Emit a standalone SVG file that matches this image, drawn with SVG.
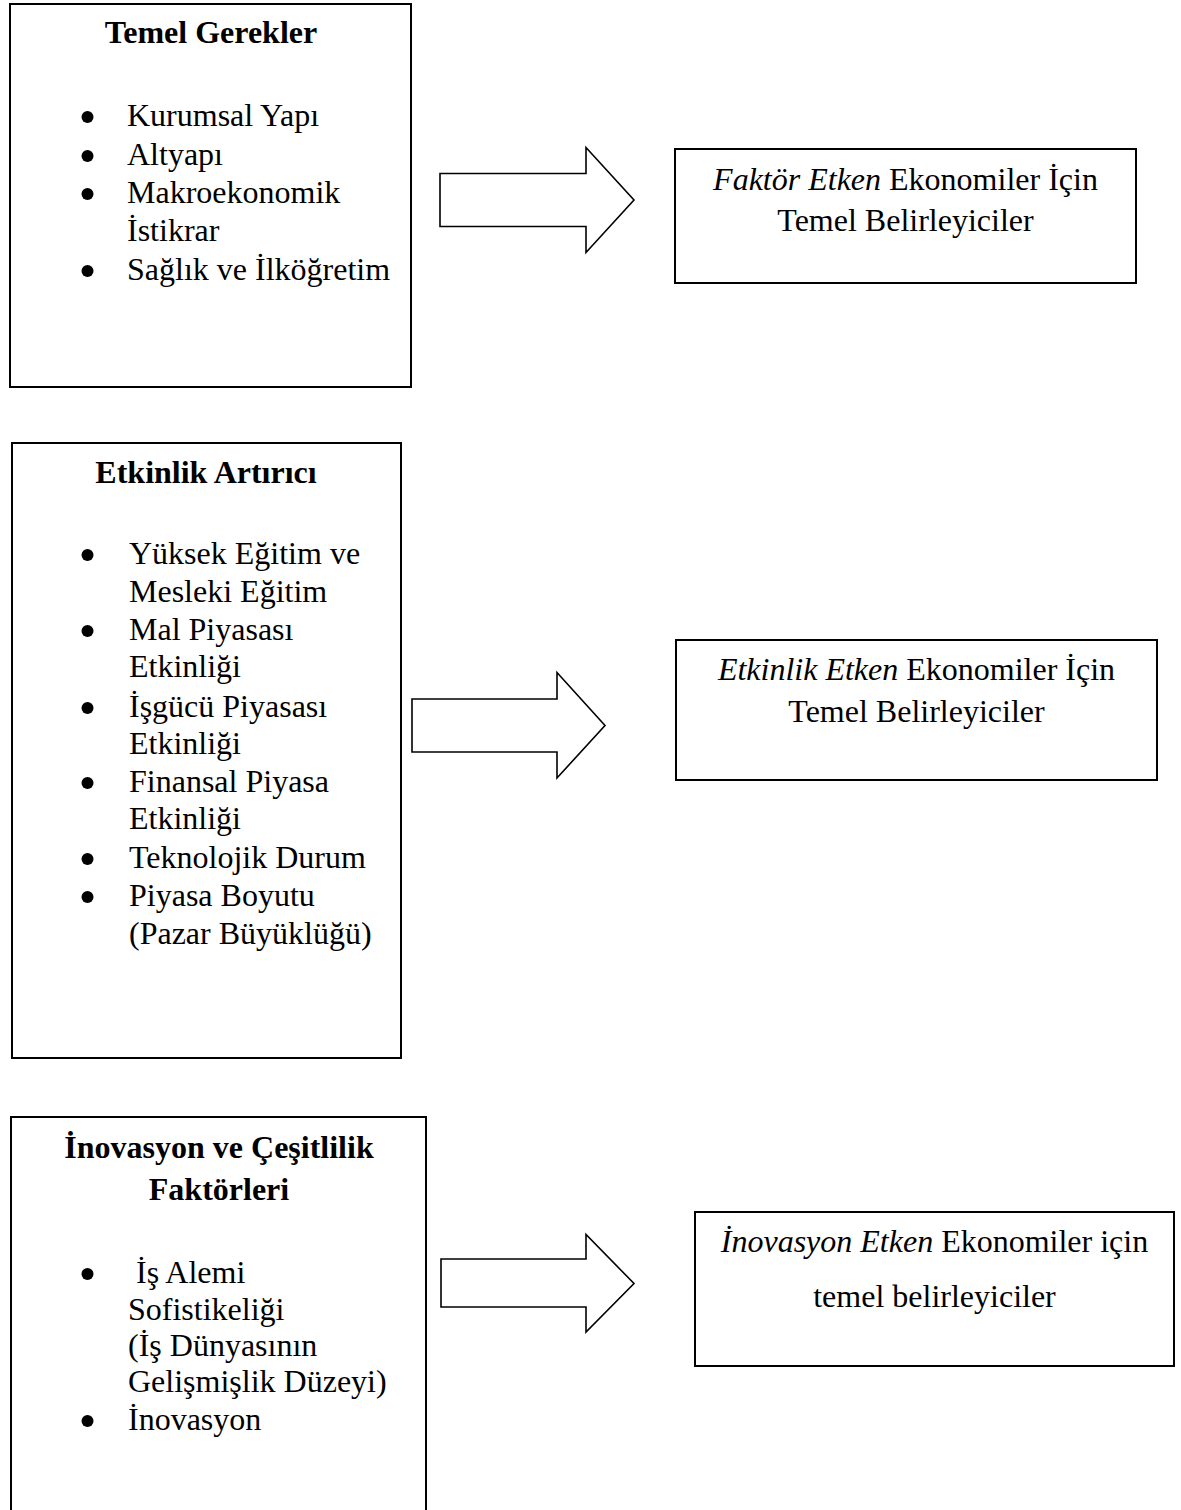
<svg xmlns="http://www.w3.org/2000/svg" width="1181" height="1510" viewBox="0 0 1181 1510">
  <style>
    .box { fill: #fff; stroke: #000; stroke-width: 2; }
    .arrow { fill: #fff; stroke: #000; stroke-width: 1.6; stroke-linejoin: miter; }
    text { font-family: "Liberation Serif", "Times New Roman", serif; font-size: 32px; fill: #000; }
    .title { font-weight: bold; text-anchor: middle; }
    .center { text-anchor: middle; }
    .it { font-style: italic; }
    .dot { fill: #000; }
  </style>
  <rect width="1181" height="1510" fill="#fff"/>

  <!-- Basic requirements -->
  <g id="temel-gerekler">
    <rect class="box" x="10" y="4" width="401" height="383"/>
    <text class="title" x="211" y="43">Temel Gerekler</text>
    <circle class="dot" cx="87.5" cy="117" r="6"/>
    <text x="127" y="126">Kurumsal Yapı</text>
    <circle class="dot" cx="87.5" cy="156" r="6"/>
    <text x="127" y="165">Altyapı</text>
    <circle class="dot" cx="87.5" cy="194" r="6"/>
    <text x="127" y="203">Makroekonomik</text>
    <text x="127" y="241">İstikrar</text>
    <circle class="dot" cx="87.5" cy="271" r="6"/>
    <text x="127" y="280">Sağlık ve İlköğretim</text>
  </g>

  <g id="faktor-etken">
    <rect class="box" x="675" y="149" width="461" height="134"/>
    <text class="center" x="905.5" y="190"><tspan class="it">Faktör Etken</tspan> Ekonomiler İçin</text>
    <text class="center" x="905.5" y="231">Temel Belirleyiciler</text>
  </g>

  <!-- Efficiency enhancers -->
  <g id="etkinlik-artirici">
    <rect class="box" x="12" y="443" width="389" height="615"/>
    <text class="title" x="206" y="483">Etkinlik Artırıcı</text>
    <circle class="dot" cx="87.5" cy="555" r="6"/>
    <text x="129" y="564">Yüksek Eğitim ve</text>
    <text x="129" y="602">Mesleki Eğitim</text>
    <circle class="dot" cx="87.5" cy="631" r="6"/>
    <text x="129" y="640">Mal Piyasası</text>
    <text x="129" y="677">Etkinliği</text>
    <circle class="dot" cx="87.5" cy="708" r="6"/>
    <text x="129" y="717">İşgücü Piyasası</text>
    <text x="129" y="754">Etkinliği</text>
    <circle class="dot" cx="87.5" cy="783" r="6"/>
    <text x="129" y="792">Finansal Piyasa</text>
    <text x="129" y="829">Etkinliği</text>
    <circle class="dot" cx="87.5" cy="859" r="6"/>
    <text x="129" y="868">Teknolojik Durum</text>
    <circle class="dot" cx="87.5" cy="897" r="6"/>
    <text x="129" y="906">Piyasa Boyutu</text>
    <text x="129" y="944">(Pazar Büyüklüğü)</text>
  </g>

  <g id="etkinlik-etken">
    <rect class="box" x="676" y="640" width="481" height="140"/>
    <text class="center" x="916.5" y="680"><tspan class="it">Etkinlik Etken</tspan> Ekonomiler İçin</text>
    <text class="center" x="916.5" y="722">Temel Belirleyiciler</text>
  </g>

  <!-- Innovation and sophistication factors -->
  <g id="inovasyon-faktorleri">
    <rect class="box" x="11" y="1117" width="415" height="410"/>
    <text class="title" x="219" y="1158">İnovasyon ve Çeşitlilik</text>
    <text class="title" x="219" y="1200">Faktörleri</text>
    <circle class="dot" cx="87.5" cy="1274" r="6"/>
    <text x="128" y="1283" xml:space="preserve"> İş Alemi</text>
    <text x="128" y="1320">Sofistikeliği</text>
    <text x="128" y="1356">(İş Dünyasının</text>
    <text x="128" y="1392">Gelişmişlik Düzeyi)</text>
    <circle class="dot" cx="87.5" cy="1421" r="6"/>
    <text x="128" y="1430">İnovasyon</text>
  </g>

  <g id="inovasyon-etken">
    <rect class="box" x="695" y="1212" width="479" height="154"/>
    <text class="center" x="934.5" y="1252"><tspan class="it">İnovasyon Etken</tspan> Ekonomiler için</text>
    <text class="center" x="934.5" y="1307">temel belirleyiciler</text>
  </g>

  <!-- Block arrows linking each pillar group to its stage -->
  <g id="connectors">
    <path class="arrow" d="M440,173.5 H586 V147.5 L634,200 L586,252.5 V226.5 H440 Z"/>
    <path class="arrow" d="M412,699 H557 V672.5 L605,725.5 L557,778 V752 H412 Z"/>
    <path class="arrow" d="M441,1259 H586 V1234.5 L634,1283.5 L586,1332 V1307 H441 Z"/>
  </g>
</svg>
